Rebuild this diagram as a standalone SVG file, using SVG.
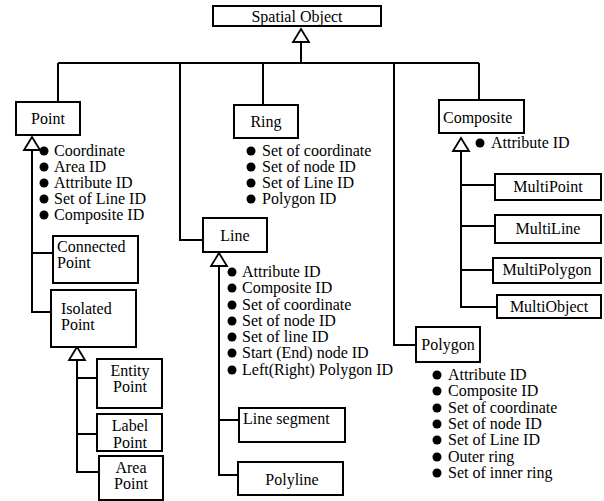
<svg xmlns="http://www.w3.org/2000/svg" width="604" height="501" viewBox="0 0 604 501">
<style>
.box{fill:#fff;stroke:#000;stroke-width:2}
.ln{fill:none;stroke:#000;stroke-width:2}
.tri{fill:#fff;stroke:#000;stroke-width:1.8}
text{font-family:"Liberation Serif","Times New Roman",serif;font-size:16px;fill:#000}
.c{text-anchor:middle}
.dot{fill:#000}
</style>
<rect width="604" height="501" fill="#fff"/>
<g id="connectors">
<path class="ln" d="M301 42V63M58 63H479M58 63V102M180 63V240H203M263 63V105M394 63V345H416M479 63V100"/>
<path class="ln" d="M32 150V312H51M32 253H53"/>
<path class="ln" d="M77 360V472H99M77 378H97M77 434H97"/>
<path class="ln" d="M219 266V475H238M219 420H239"/>
<path class="ln" d="M461 151V307H497M461 185H495M461 226H495M461 270H493"/>
<path class="tri" d="M301 29L293 42H309Z"/>
<path class="tri" d="M32 137L24 150H40Z"/>
<path class="tri" d="M77 347L69 360H85Z"/>
<path class="tri" d="M219 253L211 266H227Z"/>
<path class="tri" d="M461 138L453 151H469Z"/>
</g>
<g id="spatial-object"><rect class="box" x="213" y="6" width="168" height="20"/><text class="c" x="297" y="22">Spatial Object</text></g>
<g id="point"><rect class="box" x="16" y="102" width="64" height="33"/><text class="c" x="48" y="124">Point</text>
<circle class="dot" cx="44" cy="151" r="4.5"/><text x="54" y="156">Coordinate</text>
<circle class="dot" cx="44" cy="167" r="4.5"/><text x="54" y="172">Area ID</text>
<circle class="dot" cx="44" cy="183" r="4.5"/><text x="54" y="188">Attribute ID</text>
<circle class="dot" cx="44" cy="199" r="4.5"/><text x="54" y="204">Set of Line ID</text>
<circle class="dot" cx="44" cy="215" r="4.5"/><text x="54" y="220">Composite ID</text></g>
<g id="connected-point"><rect class="box" x="53" y="236" width="85" height="47"/><text x="57" y="252">Connected</text><text x="57" y="268">Point</text></g>
<g id="isolated-point"><rect class="box" x="51" y="290" width="85" height="57"/><text x="61" y="314">Isolated</text><text x="61" y="330">Point</text></g>
<g id="entity-point"><rect class="box" x="97" y="359" width="65" height="49"/><text class="c" x="130" y="376">Entity</text><text class="c" x="130" y="392">Point</text></g>
<g id="label-point"><rect class="box" x="97" y="414" width="65" height="37"/><text class="c" x="130" y="431">Label</text><text class="c" x="130" y="448">Point</text></g>
<g id="area-point"><rect class="box" x="99" y="456" width="64" height="44"/><text class="c" x="131" y="473">Area</text><text class="c" x="131" y="489">Point</text></g>
<g id="ring"><rect class="box" x="234" y="105" width="64" height="33"/><text class="c" x="266" y="127">Ring</text>
<circle class="dot" cx="251" cy="151" r="4.5"/><text x="262" y="156">Set of coordinate</text>
<circle class="dot" cx="251" cy="167" r="4.5"/><text x="262" y="172">Set of node ID</text>
<circle class="dot" cx="251" cy="183" r="4.5"/><text x="262" y="188">Set of Line ID</text>
<circle class="dot" cx="251" cy="199" r="4.5"/><text x="262" y="204">Polygon ID</text></g>
<g id="line"><rect class="box" x="203" y="218" width="64" height="34"/><text class="c" x="235" y="241">Line</text>
<circle class="dot" cx="232" cy="272" r="4.5"/><text x="242" y="277">Attribute ID</text>
<circle class="dot" cx="232" cy="288" r="4.5"/><text x="242" y="293">Composite ID</text>
<circle class="dot" cx="232" cy="305" r="4.5"/><text x="242" y="310">Set of coordinate</text>
<circle class="dot" cx="232" cy="321" r="4.5"/><text x="242" y="326">Set of node ID</text>
<circle class="dot" cx="232" cy="337" r="4.5"/><text x="242" y="342">Set of line ID</text>
<circle class="dot" cx="232" cy="353" r="4.5"/><text x="242" y="358">Start (End) node ID</text>
<circle class="dot" cx="232" cy="370" r="4.5"/><text x="242" y="375">Left(Right) Polygon ID</text></g>
<g id="line-segment"><rect class="box" x="239" y="408" width="106" height="34"/><text x="243" y="424">Line segment</text></g>
<g id="polyline"><rect class="box" x="238" y="462" width="105" height="33"/><text class="c" x="292" y="485">Polyline</text></g>
<g id="polygon"><rect class="box" x="416" y="327" width="64" height="35"/><text class="c" x="448" y="350">Polygon</text>
<circle class="dot" cx="437" cy="375" r="4.5"/><text x="448" y="380">Attribute ID</text>
<circle class="dot" cx="437" cy="391" r="4.5"/><text x="448" y="396">Composite ID</text>
<circle class="dot" cx="437" cy="408" r="4.5"/><text x="448" y="413">Set of coordinate</text>
<circle class="dot" cx="437" cy="424" r="4.5"/><text x="448" y="429">Set of node ID</text>
<circle class="dot" cx="437" cy="440" r="4.5"/><text x="448" y="445">Set of Line ID</text>
<circle class="dot" cx="437" cy="457" r="4.5"/><text x="448" y="462">Outer ring</text>
<circle class="dot" cx="437" cy="473" r="4.5"/><text x="448" y="478">Set of inner ring</text></g>
<g id="composite"><rect class="box" x="439" y="100" width="85" height="33"/><text x="443" y="123">Composite</text>
<circle class="dot" cx="480" cy="143" r="4.5"/><text x="491" y="148">Attribute ID</text></g>
<g id="multipoint"><rect class="box" x="495" y="174" width="106" height="26"/><text class="c" x="548" y="192">MultiPoint</text></g>
<g id="multiline"><rect class="box" x="495" y="215" width="106" height="28"/><text class="c" x="548" y="234">MultiLine</text></g>
<g id="multipolygon"><rect class="box" x="493" y="258" width="108" height="25"/><text class="c" x="547" y="275">MultiPolygon</text></g>
<g id="multiobject"><rect class="box" x="497" y="295" width="104" height="23"/><text class="c" x="549" y="312">MultiObject</text></g>
</svg>
